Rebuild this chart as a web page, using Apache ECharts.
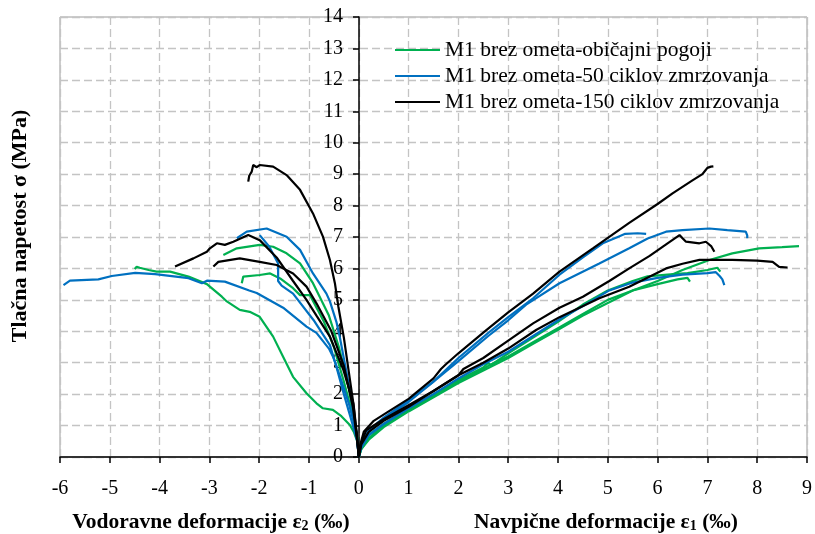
<!DOCTYPE html>
<html><head><meta charset="utf-8">
<script src="https://cdn.jsdelivr.net/npm/echarts@6/dist/echarts.min.js"></script>
<style>html,body{margin:0;padding:0;background:#fff}#c{width:815px;height:534px}</style>
</head><body><div id="c"></div>
<script>
// Legend names
const nameG = 'M1 brez ometa-običajni pogoji';
const nameB = 'M1 brez ometa-50 ciklov zmrzovanja';
const nameK = 'M1 brez ometa-150 ciklov zmrzovanja';

// Right branch (ε1) curves [strain ‰, stress MPa]
const greenR1 = [[0,0],[0.05,0.3],[0.2,0.7],[0.5,1.05],[1,1.55],[1.5,2.0],[2,2.45],[2.5,2.85],[2.6,3.0],[2.65,2.92],[3,3.3],[3.5,3.8],[4,4.3],[4.5,4.85],[5,5.3],[5.5,5.6],[5.8,5.75],[6.2,5.8],[6.6,5.85],[7.0,5.95],[7.2,6.02],[7.26,5.9]];
const greenR2 = [[0,0],[0.05,0.25],[0.2,0.6],[0.5,1.0],[1,1.5],[1.5,1.95],[2,2.4],[2.5,2.8],[2.6,2.9],[3,3.2],[3.5,3.65],[4,4.1],[4.5,4.55],[5,5.0],[5.5,5.3],[6.0,5.5],[6.4,5.65],[6.6,5.7],[6.65,5.58]];
const greenR3 = [[0,0],[0.05,0.25],[0.2,0.55],[0.5,0.95],[1,1.45],[1.5,1.9],[2,2.35],[2.5,2.75],[3,3.15],[3.5,3.6],[4,4.05],[4.5,4.5],[5,4.9],[5.5,5.3],[6.0,5.6],[6.5,5.95],[7.04,6.27],[7.5,6.48],[8.04,6.64],[8.5,6.68],[8.84,6.71]];
const blueR1 = [[0,0],[0.05,0.4],[0.2,0.85],[0.5,1.25],[1,1.8],[1.5,2.4],[2,3.15],[2.6,3.95],[3,4.45],[3.5,5.05],[4.03,5.8],[4.5,6.35],[4.9,6.8],[5.2,7.0],[5.35,7.1],[5.6,7.12],[5.77,7.1]];
const blueR2 = [[0,0],[0.05,0.35],[0.2,0.8],[0.5,1.2],[1,1.75],[1.5,2.4],[2,3.05],[2.6,3.85],[3,4.35],[3.36,4.85],[4.03,5.53],[4.83,6.16],[5.43,6.64],[5.8,6.95],[6.17,7.17],[6.5,7.22],[7.04,7.27],[7.4,7.22],[7.77,7.17],[7.8,7.05],[7.8,6.96]];
const blueR3 = [[0,0],[0.05,0.3],[0.2,0.7],[0.5,1.05],[1,1.55],[1.5,2.0],[2,2.5],[2.5,2.95],[3,3.35],[3.5,3.85],[4,4.35],[4.5,4.8],[5.03,5.3],[5.5,5.55],[6,5.7],[6.5,5.8],[7.0,5.85],[7.17,5.88],[7.25,5.75],[7.3,5.65],[7.34,5.47]];
const blackR1 = [[0,0],[0.03,0.4],[0.1,0.8],[0.3,1.15],[0.6,1.45],[1,1.85],[1.5,2.5],[1.65,2.8],[1.75,2.95],[2,3.3],[2.53,4.0],[3,4.6],[3.5,5.2],[4.03,5.9],[4.7,6.64],[5.43,7.45],[6,8.05],[6.3,8.39],[6.7,8.8],[6.9,9.0],[6.95,9.1],[7.0,9.2],[7.07,9.24],[7.12,9.25]];
const blackR2 = [[0,0],[0.05,0.4],[0.2,0.8],[0.5,1.15],[1,1.6],[1.5,2.1],[2,2.6],[2.1,2.8],[2.5,3.15],[3,3.7],[3.5,4.25],[4.03,4.75],[4.5,5.1],[5.03,5.6],[5.43,6.0],[5.84,6.4],[6.2,6.8],[6.44,7.06],[6.57,6.85],[6.84,6.8],[6.97,6.85],[7.08,6.7],[7.14,6.53]];
const blackR3 = [[0,0],[0.05,0.45],[0.15,0.85],[0.5,1.2],[1,1.65],[1.5,2.1],[2,2.6],[2.5,3.0],[3,3.45],[3.56,4.04],[4.03,4.45],[4.83,5.05],[5.43,5.42],[6.17,6.0],[6.5,6.15],[6.84,6.27],[7.5,6.27],[8,6.25],[8.31,6.21],[8.44,6.05],[8.61,6.03]];

// Left branch (ε2) curves
const greenL1 = [[0,0],[-0.02,0.45],[-0.1,0.8],[-0.18,1.02],[-0.35,1.3],[-0.52,1.5],[-0.72,1.55],[-0.85,1.71],[-1.05,2.03],[-1.32,2.55],[-1.52,3.19],[-1.72,3.83],[-1.99,4.46],[-2.19,4.62],[-2.39,4.68],[-2.65,4.95],[-2.75,5.1],[-3.05,5.5],[-3.42,5.74],[-3.79,5.9],[-4.06,5.9],[-4.22,5.95],[-4.4,6.02],[-4.46,6.05],[-4.5,5.98]];
const greenL2 = [[0,0],[-0.02,0.5],[-0.05,0.8],[-0.2,2.2],[-0.4,3.5],[-0.6,4.5],[-0.92,5.53],[-1.18,6.16],[-1.45,6.48],[-1.72,6.69],[-1.99,6.75],[-2.45,6.64],[-2.72,6.43]];
const greenL3 = [[0,0],[-0.02,0.5],[-0.1,1.2],[-0.3,2.4],[-0.5,3.5],[-0.7,4.3],[-0.98,5.15],[-1.18,5.15],[-1.32,5.37],[-1.58,5.68],[-1.78,5.84],[-1.99,5.79],[-2.32,5.74],[-2.35,5.53]];
const blueL1 = [[0,0],[-0.03,0.5],[-0.1,1.1],[-0.2,1.7],[-0.31,2.24],[-0.45,2.9],[-0.52,3.2],[-0.6,3.45],[-0.85,3.95],[-1.05,4.15],[-1.52,4.75],[-2.05,5.22],[-2.2,5.3],[-2.69,5.58],[-3.05,5.61],[-3.15,5.53],[-3.42,5.69],[-4.09,5.82],[-4.49,5.86],[-4.96,5.76],[-5.23,5.65],[-5.8,5.61],[-5.93,5.47]];
const blueL2 = [[0,0],[-0.03,0.5],[-0.1,0.9],[-0.3,2.0],[-0.45,2.87],[-0.58,3.56],[-0.91,4.36],[-1.32,5.2],[-1.55,5.45],[-1.62,5.6],[-1.62,6.16],[-1.8,6.7],[-1.99,7.06]];
const blueL3 = [[0,0],[-0.03,0.5],[-0.05,0.8],[-0.18,2.13],[-0.38,3.8],[-0.45,4.3],[-0.58,4.95],[-0.65,5.2],[-0.92,5.84],[-1.18,6.59],[-1.45,7.01],[-1.85,7.27],[-2.25,7.17],[-2.45,6.96]];
const blackL1 = [[0,0],[-0.03,0.6],[-0.1,1.6],[-0.2,2.7],[-0.3,3.8],[-0.41,4.78],[-0.48,5.53],[-0.58,6.27],[-0.72,7.01],[-0.92,7.75],[-1.18,8.5],[-1.45,8.97],[-1.72,9.24],[-1.99,9.29],[-2.05,9.22],[-2.12,9.29],[-2.15,9.08],[-2.2,8.95],[-2.22,8.76]];
const blackL2 = [[0,0],[-0.03,0.5],[-0.11,1.71],[-0.31,2.77],[-0.58,3.83],[-0.85,4.5],[-1.05,5.0],[-1.32,5.6],[-1.65,6.35],[-1.99,6.9],[-2.22,7.06],[-2.52,6.85],[-2.69,6.75],[-2.85,6.8],[-2.99,6.64],[-3.05,6.53],[-3.32,6.32],[-3.69,6.06]];
const blackL3 = [[0,0],[-0.03,0.5],[-0.12,1.6],[-0.3,2.9],[-0.55,4.0],[-0.85,4.89],[-1.05,5.42],[-1.32,5.84],[-1.65,6.11],[-1.99,6.21],[-2.39,6.32],[-2.82,6.21],[-2.92,6.06]];

const greenCurves = [greenR1, greenR2, greenR3, greenL1, greenL2, greenL3];
const blueCurves = [blueR1, blueR2, blueR3, blueL1, blueL2, blueL3];
const blackCurves = [blackR1, blackR2, blackR3, blackL1, blackL2, blackL3];

const SERIF = '"Liberation Serif","Times New Roman",serif';
const colors = {g:'#00B050', b:'#0070C0', k:'#000000'};

function mk(name, color, data){
  return {name, type:'line', data, showSymbol:false, symbol:'none', smooth:false,
    lineStyle:{color, width:2.2}, itemStyle:{color}, animation:false, z:3};
}
const series = [];
greenCurves.forEach(d=>series.push(mk(nameG, colors.g, d)));
blueCurves.forEach(d=>series.push(mk(nameB, colors.b, d)));
blackCurves.forEach(d=>series.push(mk(nameK, colors.k, d)));

const LINE_ICON = 'path://M0,0L100,0L100,4L0,4Z';

const chart = echarts.init(document.getElementById('c'), null, {renderer:'canvas'});
chart.setOption({
  animation:false,
  backgroundColor:'#fff',
  grid:{left:60, right:7, top:17, bottom:77, show:true, borderColor:'#9a9a9a', borderWidth:1},
  legend:{
    orient:'vertical', left:390, top:34, itemWidth:45, itemHeight:2.2, itemGap:4,
    icon:LINE_ICON,
    data:[nameG, nameB, nameK],
    textStyle:{fontFamily:SERIF, fontSize:21.5, color:'#000', lineHeight:21}
  },
  xAxis:{
    type:'value', min:-6, max:9, interval:1,
    axisLine:{onZero:false, lineStyle:{color:'#000', width:1.5}},
    axisTick:{show:true, length:6, lineStyle:{color:'#000', width:1.5}},
    axisLabel:{fontFamily:SERIF, fontSize:20, color:'#000', margin:22},
    splitLine:{show:true, lineStyle:{color:'#c4c4c4', width:1.3, type:[8,4]}}
  },
  yAxis:{
    type:'value', min:0, max:14, interval:1, position:'left', offset:-299,
    axisLine:{onZero:false, lineStyle:{color:'#000', width:1.5}},
    axisTick:{show:true, length:6, lineStyle:{color:'#000', width:1.5}},
    axisLabel:{fontFamily:SERIF, fontSize:20, color:'#000', margin:16},
    splitLine:{show:true, lineStyle:{color:'#c4c4c4', width:1.3, type:[8,4]}}
  },
  graphic:[
    {type:'text', x:211, y:522, style:{
      text:'{b|Vodoravne deformacije ε}{s|2}{b| (‰)}',
      align:'center', verticalAlign:'middle',
      rich:{b:{fontFamily:SERIF, fontSize:21.5, fontWeight:'bold', color:'#000'},
            s:{fontFamily:SERIF, fontSize:14, fontWeight:'bold', color:'#000', padding:[8,0,0,0]}}
    }},
    {type:'text', x:606, y:522, style:{
      text:'{b|Navpične deformacije ε}{s|1}{b| (‰)}',
      align:'center', verticalAlign:'middle',
      rich:{b:{fontFamily:SERIF, fontSize:21.5, fontWeight:'bold', color:'#000'},
            s:{fontFamily:SERIF, fontSize:14, fontWeight:'bold', color:'#000', padding:[8,0,0,0]}}
    }},
    {type:'text', x:20, y:226, rotation:Math.PI/2, style:{
      text:'Tlačna napetost σ (MPa)', align:'center', verticalAlign:'middle',
      font:'bold 22px '+SERIF, fill:'#000'
    }}
  ],
  series
});
</script>
</body></html>
